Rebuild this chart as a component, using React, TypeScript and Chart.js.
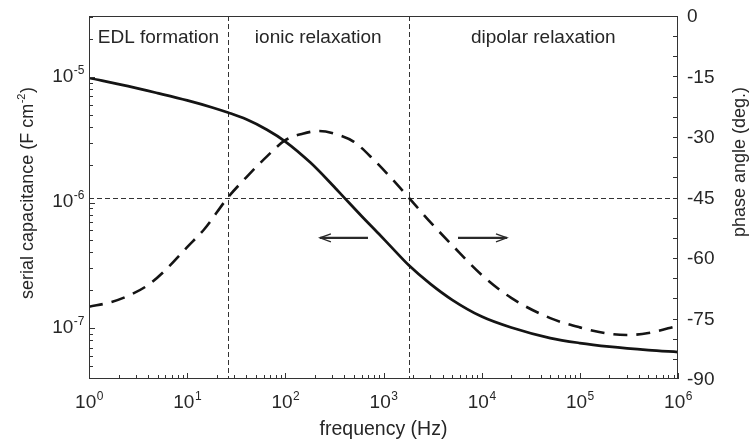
import React, { useEffect, useRef } from "react";
import { Chart, registerables } from "chart.js";

Chart.register(...registerables);

// ---- data ----
const capFreqHz = [1, 2.5, 5, 10, 18, 26, 40, 65, 100, 180, 300, 400, 600, 900, 1300, 1800, 3000, 5000, 1e4, 2e4, 5e4, 1e5, 2e5, 5e5, 1e6];
const capacitance = [9.82e-6, 8.45e-6, 7.44e-6, 6.51e-6, 5.72e-6, 5.21e-6, 4.6e-6, 3.8e-6, 3.06e-6, 2.08e-6, 1.386e-6, 1.09e-6, 7.78e-7, 5.61e-7, 4.14e-7, 3.18e-7, 2.25e-7, 1.68e-7, 1.235e-7, 1.01e-7, 8.32e-8, 7.6e-8, 7.12e-8, 6.68e-8, 6.44e-8];

const phaseFreqHz = [1, 1.7, 2.5, 4, 6, 10, 15, 26, 40, 65, 100, 150, 220, 350, 500, 800, 1200, 1800, 3000, 5000, 1e4, 2e4, 5e4, 1e5, 2e5, 3e5, 5e5, 1e6];
const phaseDeg = [-72.1, -70.9, -69.4, -66.7, -63.0, -57.3, -52.8, -45, -40, -34.8, -30.8, -29.2, -28.5, -29.5, -31.2, -35.7, -40.2, -45, -51.1, -56.8, -64.2, -69.9, -74.9, -77.2, -78.8, -79.1, -78.6, -76.8];

const regionBoundsHz = [26, 1800];
const regionLabels = ["EDL formation", "ionic relaxation", "dipolar relaxation"];
const referencePhase = -45;

// arrows: [fromHz, toHz, phase]
const arrowLeft = [695, 225, -55];
const arrowRight = [5740, 18100, -55];

const xMajorExp = [0, 1, 2, 3, 4, 5, 6];
const yMajorExp = [-7, -6, -5];
const phaseTicks = [0, -15, -30, -45, -60, -75, -90];

const xTitle = "frequency (Hz)";
const yTitle = "serial capacitance (F cm";
const yTitleSup = "-2";
const y2Title = "phase angle (deg.)";

const FONT = "'Liberation Sans', Arial, Helvetica, sans-serif";
const TXT = "#262626";
const INK = "#141414";

function drawPow(ctx: CanvasRenderingContext2D, base: string, exp: string, x: number, yMid: number, align: "left" | "center" | "right", bSize: number, eSize: number) {
  ctx.font = `${bSize}px ${FONT}`;
  const wb = ctx.measureText(base).width;
  ctx.font = `${eSize}px ${FONT}`;
  const we = ctx.measureText(exp).width;
  const total = wb + we;
  let sx = x;
  if (align === "center") sx = x - total / 2;
  else if (align === "right") sx = x - total;
  const baseline = yMid + bSize * 0.36;
  ctx.textAlign = "left";
  ctx.textBaseline = "alphabetic";
  ctx.font = `${bSize}px ${FONT}`;
  ctx.fillText(base, sx, baseline);
  ctx.font = `${eSize}px ${FONT}`;
  ctx.fillText(exp, sx + wb + 0.5, baseline - bSize * 0.42);
}

function drawArrow(ctx: CanvasRenderingContext2D, x1: number, y: number, x2: number) {
  const dir = Math.sign(x2 - x1);
  ctx.save();
  ctx.strokeStyle = "#2a2a2a";
  ctx.lineWidth = 2.2;
  ctx.beginPath();
  ctx.moveTo(x1, y);
  ctx.lineTo(x2, y);
  ctx.stroke();
  ctx.lineWidth = 1.3;
  ctx.beginPath();
  ctx.moveTo(x2 - dir * 11, y - 4);
  ctx.lineTo(x2, y);
  ctx.lineTo(x2 - dir * 11, y + 4);
  ctx.stroke();
  ctx.restore();
}

const decorPlugin = {
  id: "decor",
  beforeDatasetsDraw(chart: any) {
    const ctx: CanvasRenderingContext2D = chart.ctx;
    const { left, right, top, bottom } = chart.chartArea;
    const xs = chart.scales.x;
    const y2 = chart.scales.y2;
    ctx.save();
    ctx.strokeStyle = "#333";
    ctx.lineWidth = 1;
    ctx.setLineDash([5, 3]);
    regionBoundsHz.forEach((f) => {
      const px = Math.round(xs.getPixelForValue(f)) + 0.5;
      ctx.beginPath();
      ctx.moveTo(px, top);
      ctx.lineTo(px, bottom);
      ctx.stroke();
    });
    const py = Math.round(y2.getPixelForValue(referencePhase)) + 0.5;
    ctx.beginPath();
    ctx.moveTo(left, py);
    ctx.lineTo(right, py);
    ctx.stroke();
    ctx.restore();
  },
  afterDraw(chart: any) {
    const ctx: CanvasRenderingContext2D = chart.ctx;
    const { left, right, top, bottom } = chart.chartArea;
    const xs = chart.scales.x;
    const ys = chart.scales.y;
    const y2 = chart.scales.y2;
    ctx.save();
    // frame
    ctx.strokeStyle = "#333";
    ctx.lineWidth = 1;
    ctx.setLineDash([]);
    ctx.strokeRect(left + 0.5, top + 0.5, right - left - 1, bottom - top - 1);

    // x ticks
    ctx.beginPath();
    for (let e = 0; e <= 6; e++) {
      for (let k = 1; k <= 9; k++) {
        const v = k * Math.pow(10, e);
        if (v > 1e6 + 1) continue;
        const px = Math.round(xs.getPixelForValue(v)) + 0.5;
        const len = k === 1 ? 6 : 4;
        ctx.moveTo(px, bottom);
        ctx.lineTo(px, bottom - len);
      }
    }
    // left y ticks
    const yMin = ys.min, yMax = ys.max;
    for (let e = -8; e <= -5; e++) {
      for (let k = 1; k <= 9; k++) {
        const v = k * Math.pow(10, e);
        if (v < yMin || v > yMax) continue;
        const py = Math.round(ys.getPixelForValue(v)) + 0.5;
        const len = k === 1 ? 6 : 4;
        ctx.moveTo(left, py);
        ctx.lineTo(left + len, py);
      }
    }
    // right y ticks every 5 deg
    for (let d = -85; d <= -5; d += 5) {
      const py = Math.round(y2.getPixelForValue(d)) + 0.5;
      ctx.moveTo(right, py);
      ctx.lineTo(right - 5, py);
    }
    ctx.stroke();

    ctx.fillStyle = TXT;
    // x labels
    xMajorExp.forEach((e) => {
      const px = xs.getPixelForValue(Math.pow(10, e));
      drawPow(ctx, "10", String(e), px, 401, "center", 19, 12);
    });
    // left labels
    yMajorExp.forEach((e) => {
      const py = ys.getPixelForValue(Math.pow(10, e));
      drawPow(ctx, "10", String(e), 84, py - 2, "right", 19, 12);
    });
    // right labels
    ctx.font = `19px ${FONT}`;
    ctx.textAlign = "left";
    ctx.textBaseline = "middle";
    phaseTicks.forEach((d) => {
      const py = y2.getPixelForValue(d);
      ctx.fillText(String(d), 687, py + 1);
    });

    // x title
    ctx.font = `19.5px ${FONT}`;
    ctx.textAlign = "center";
    ctx.textBaseline = "alphabetic";
    ctx.fillText(xTitle, (left + right) / 2, 435);

    // left title (rotated)
    ctx.save();
    ctx.translate(33, 193);
    ctx.rotate(-Math.PI / 2);
    ctx.font = `18px ${FONT}`;
    const w1 = ctx.measureText(yTitle).width;
    ctx.font = `11px ${FONT}`;
    const w2 = ctx.measureText(yTitleSup).width;
    ctx.font = `18px ${FONT}`;
    const w3 = ctx.measureText(")").width;
    const tot = w1 + w2 + w3 + 1;
    const sx = -tot / 2;
    ctx.textAlign = "left";
    ctx.fillText(yTitle, sx, 0);
    ctx.font = `11px ${FONT}`;
    ctx.fillText(yTitleSup, sx + w1 + 0.5, -8);
    ctx.font = `18px ${FONT}`;
    ctx.fillText(")", sx + w1 + w2 + 1, 0);
    ctx.restore();

    // right title (rotated)
    ctx.save();
    ctx.translate(745, 162);
    ctx.rotate(-Math.PI / 2);
    ctx.font = `18px ${FONT}`;
    ctx.textAlign = "center";
    ctx.fillText(y2Title, 0, 0);
    ctx.restore();

    // region labels
    const bounds = [left, ...regionBoundsHz.map((f) => xs.getPixelForValue(f)), right];
    ctx.font = `19px ${FONT}`;
    ctx.textAlign = "center";
    ctx.textBaseline = "alphabetic";
    regionLabels.forEach((t, i) => {
      ctx.fillText(t, (bounds[i] + bounds[i + 1]) / 2, 43);
    });

    // arrows
    [arrowLeft, arrowRight].forEach((a) => {
      const x1 = xs.getPixelForValue(a[0]);
      const x2 = xs.getPixelForValue(a[1]);
      const py = y2.getPixelForValue(a[2]);
      drawArrow(ctx, x1, py, x2);
    });
    ctx.restore();
  },
};

export default function App() {
  const ref = useRef<HTMLCanvasElement | null>(null);
  useEffect(() => {
    if (!ref.current) return;
    const chart = new Chart(ref.current, {
      type: "line",
      data: {
        datasets: [
          {
            label: "capacitance",
            data: capFreqHz.map((f, i) => ({ x: f, y: capacitance[i] })),
            yAxisID: "y",
            borderColor: INK,
            borderWidth: 2.7,
            pointRadius: 0,
            fill: false,
            cubicInterpolationMode: "monotone",
          },
          {
            label: "phase",
            data: phaseFreqHz.map((f, i) => ({ x: f, y: phaseDeg[i] })),
            yAxisID: "y2",
            borderColor: INK,
            borderWidth: 2.6,
            borderDash: [14, 9],
            pointRadius: 0,
            fill: false,
            cubicInterpolationMode: "monotone",
          },
        ],
      },
      options: {
        responsive: false,
        animation: false,
        devicePixelRatio: 1,
        layout: { padding: { top: 16, left: 0, right: 0, bottom: 0 } },
        plugins: { legend: { display: false }, tooltip: { enabled: false }, title: { display: false } },
        scales: {
          x: {
            type: "logarithmic",
            position: "bottom",
            min: 1,
            max: 1e6,
            ticks: { display: false },
            grid: { display: false },
            border: { display: false },
            afterFit: (s: any) => { s.height = 62; },
          },
          y: {
            type: "logarithmic",
            position: "left",
            min: 3.93e-8,
            max: 3.06e-5,
            ticks: { display: false },
            grid: { display: false },
            border: { display: false },
            afterFit: (s: any) => { s.width = 89; },
          },
          y2: {
            type: "linear",
            position: "right",
            min: -90,
            max: 0,
            ticks: { display: false },
            grid: { display: false },
            border: { display: false },
            afterFit: (s: any) => { s.width = 72; },
          },
        },
      } as any,
      plugins: [decorPlugin],
    });
    return () => chart.destroy();
  }, []);
  return (
    <div style={{ position: "fixed", left: 0, top: 0, width: 750, height: 441, background: "#fff" }}>
      <canvas ref={ref} width={750} height={441} style={{ width: 750, height: 441, display: "block" }} />
    </div>
  );
}
